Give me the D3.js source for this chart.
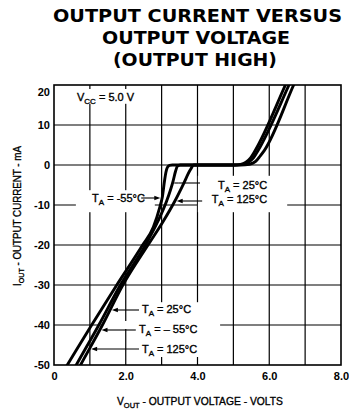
<!DOCTYPE html>
<html><head><meta charset="utf-8">
<script src="https://cdn.jsdelivr.net/npm/d3@7"></script>
<style>html,body{margin:0;padding:0;background:#fff;} svg{display:block;}</style>
</head><body><svg id="c" width="349" height="410"></svg>
<script>
// ---- data ----
const titleLines = ["OUTPUT CURRENT VERSUS", "OUTPUT VOLTAGE", "(OUTPUT HIGH)"];
const temps = ["-55°C", "25°C", "125°C"];
// output voltage (V) and output current (mA) along each curve
const voltsM55 = [0.03, 0.37, 1.05, 1.75, 2.47, 2.77, 2.95, 3.02, 3.08, 3.12, 3.16, 3.22, 3.30, 5.00, 5.20, 5.35, 5.48, 5.60, 6.45, 6.65];
const currM55  = [-55, -50, -40, -30, -20, -15.5, -10.5, -8, -4, -1.8, -0.6, -0.1, 0, 0, 0.15, 0.7, 1.8, 3.5, 20, 24];
const volts25  = [0.31, 0.62, 1.25, 1.85, 2.55, 2.90, 3.14, 3.32, 3.39, 3.44, 3.52, 5.05, 5.25, 5.42, 5.56, 5.68, 6.55, 6.75];
const curr25   = [-55, -50, -40, -30, -20, -14, -9, -4, -1.5, -0.3, 0, 0, 0.15, 0.7, 1.8, 3.5, 20, 24];
const volts125 = [0.44, 0.74, 1.35, 1.92, 2.62, 3.05, 3.37, 3.60, 3.80, 3.90, 5.20, 5.45, 5.62, 5.75, 5.86, 6.68, 6.88];
const curr125  = [-55, -50, -40, -30, -20, -14, -9, -4.9, -1.2, 0, 0, 0.2, 0.9, 2.3, 3.6, 20, 24];
const xTickValues = [0, 2, 4, 6, 8];
const xTickLabels = ["0", "2.0", "4.0", "6.0", "8.0"];
const yTickValues = [20, 10, 0, -10, -20, -30, -40, -50];
const yTickLabels = ["20", "10", "0", "-10", "-20", "-30", "-40", "-50"];
const vccText = " = 5.0 V";

// ---- layout ----
const svg = d3.select("#c");
const x = d3.scaleLinear().domain([0, 8]).range([54, 341]);
const y = d3.scaleLinear().domain([-50, 20]).range([365, 85]);
const FONT = "'Liberation Sans', Arial, sans-serif";

const seriesV = [voltsM55, volts25, volts125];
const seriesI = [currM55, curr25, curr125];
const series = temps.map((t, k) => ({ t, pts: seriesV[k].map((v, j) => [v, seriesI[k][j]]) }));

// title
const titleY = [22, 44, 65.5], titleLen = [289, 188, 164], titleX = [197.5, 196, 195];
titleLines.forEach((s, k) => {
  svg.append("text").attr("x", titleX[k]).attr("y", titleY[k])
    .attr("text-anchor", "middle").attr("font-family", "'DejaVu Sans', sans-serif")
    .attr("font-weight", "bold").attr("font-size", 17.5)
    .attr("textLength", titleLen[k]).attr("lengthAdjust", "spacingAndGlyphs")
    .attr("fill", "#000").text(s);
});

// grid
const grid = svg.append("g").attr("stroke", "#000").attr("stroke-width", 1.2);
x.ticks(8).filter(v => v > 0 && v < 8).forEach(v =>
  grid.append("line").attr("x1", x(v)).attr("x2", x(v)).attr("y1", y(20)).attr("y2", y(-50)));
y.ticks(7).filter(v => v > -50 && v < 20).forEach(v =>
  grid.append("line").attr("x1", x(0)).attr("x2", x(8)).attr("y1", y(v)).attr("y2", y(v)));

// white label backgrounds (break the grid behind the labels)
const masks = [
  [0.45, 2.45, 19.0, 15.3],
  [0.61, 2.81, -6.3, -11.8],
  [4.01, 6.50, -2.7, -11.8],
  [2.31, 4.18, -34.3, -48.0],
  [1.30, 4.63, -39.0, -41.0]
];
svg.append("g").selectAll("rect").data(masks).join("rect")
  .attr("x", d => x(d[0])).attr("width", d => x(d[1]) - x(d[0]))
  .attr("y", d => y(d[2])).attr("height", d => y(d[3]) - y(d[2]))
  .attr("fill", "#fff");

// frame
svg.append("rect").attr("x", x(0)).attr("y", y(20)).attr("width", x(8) - x(0)).attr("height", y(-50) - y(20))
  .attr("fill", "none").attr("stroke", "#000").attr("stroke-width", 1.6);

// curves
svg.append("clipPath").attr("id", "clip").append("rect")
  .attr("x", x(0)).attr("y", y(20)).attr("width", x(8) - x(0)).attr("height", y(-50) - y(20));
const line = d3.line().x(d => x(d[0])).y(d => y(d[1])).curve(d3.curveMonotoneX);
svg.append("g").attr("clip-path", "url(#clip)").selectAll("path").data(series).join("path")
  .attr("d", d => line(d.pts)).attr("fill", "none").attr("stroke", "#000")
  .attr("stroke-width", 2.9).attr("stroke-linejoin", "round");

// tick labels
const axX = d3.axisBottom(x).tickValues(xTickValues).tickFormat((d, i) => xTickLabels[i]).tickSize(0).tickPadding(7);
const gx = svg.append("g").attr("transform", `translate(0,${y(-50)})`).call(axX);
const axY = d3.axisLeft(y).tickValues(yTickValues).tickFormat((d, i) => yTickLabels[i]).tickSize(0).tickPadding(4);
const gy = svg.append("g").attr("transform", `translate(${x(0)},0)`).call(axY);
[gx, gy].forEach(g => {
  g.select(".domain").remove();
  g.selectAll("text").attr("font-family", FONT).attr("font-weight", "bold").attr("font-size", 11).attr("fill", "#000");
});
gy.selectAll(".tick").filter(d => d === 20).select("text").attr("dy", "0.95em");

// text with subscript helper
function subText(xp, yp, main, sub, rest, opts = {}) {
  const t = svg.append("text").attr("x", xp).attr("y", yp).attr("font-family", FONT)
    .attr("font-size", opts.size || 11).attr("fill", "#000")
    .attr("stroke", "#000").attr("stroke-width", 0.35);
  if (opts.anchor) t.attr("text-anchor", opts.anchor);
  if (opts.len) t.attr("textLength", opts.len).attr("lengthAdjust", "spacingAndGlyphs");
  if (opts.transform) t.attr("transform", opts.transform);
  t.append("tspan").text(main);
  t.append("tspan").attr("font-size", opts.subSize || 8).attr("dy", 3).text(sub);
  t.append("tspan").attr("dy", -3).text(rest);
  return t;
}

// axis titles
subText(200, 405, "V", "OUT", " - OUTPUT VOLTAGE - VOLTS", { anchor: "middle", len: 166 });
subText(0, 0, "I", "OUT", " - OUTPUT CURRENT - mA", { anchor: "middle", len: 140, transform: "translate(20.5,216) rotate(-90)" });

// Vcc label
subText(x(0.64), y(16), "V", "CC", vccText);

// annotation helpers
function vAt(temp, I) {
  const s = series[temps.indexOf(temp)].pts;
  for (let j = 0; j < s.length - 1; j++) {
    const a = s[j], b = s[j + 1];
    if (a[1] <= I && I <= b[1] && b[1] > a[1]) return a[0] + (I - a[1]) / (b[1] - a[1]) * (b[0] - a[0]);
  }
  return null;
}
const notes = [
  { label: temps[0], tx: 1.06, ty: -9.3, ay: -8.25, from: 2.43, target: temps[0], dir: 1 },
  { label: temps[1], tx: 4.57, ty: -5.9, ay: -4.5, from: 4.07, target: temps[1], dir: -1 },
  { label: temps[2], tx: 4.40, ty: -9.6, ay: -9.0, from: 4.13, target: temps[2], dir: -1 },
  { label: temps[1], tx: 2.45, ty: -37.1, ay: -36.25, from: 2.37, target: temps[2], dir: -1 },
  { label: temps[0], tx: 2.37, ty: -42.1, ay: -41.25, from: 2.28, target: temps[2], dir: -1 },
  { label: temps[2], tx: 2.45, ty: -46.9, ay: -46.0, from: 2.37, target: temps[2], dir: -1 }
];
notes.forEach((n, k) => {
  const lbl = (k === 4) ? " = – 55°C" : " = " + n.label;
  subText(x(n.tx), y(n.ty), "T", "A", lbl);
  const tipX = x(vAt(n.target, n.ay)) - n.dir * 1.8;
  const yy = y(n.ay);
  svg.append("line").attr("x1", x(n.from)).attr("x2", tipX - n.dir * 4).attr("y1", yy).attr("y2", yy)
    .attr("stroke", "#000").attr("stroke-width", 1.1);
  if (k !== 1) {
    svg.append("path").attr("d", `M${tipX},${yy} L${tipX - n.dir * 6},${yy - 2.2} L${tipX - n.dir * 6},${yy + 2.2} Z`)
      .attr("fill", "#000");
  } else {
    svg.append("line").attr("x1", tipX - n.dir * 4).attr("x2", tipX).attr("y1", yy).attr("y2", yy)
      .attr("stroke", "#000").attr("stroke-width", 1.1);
  }
});
</script>
</body></html>
